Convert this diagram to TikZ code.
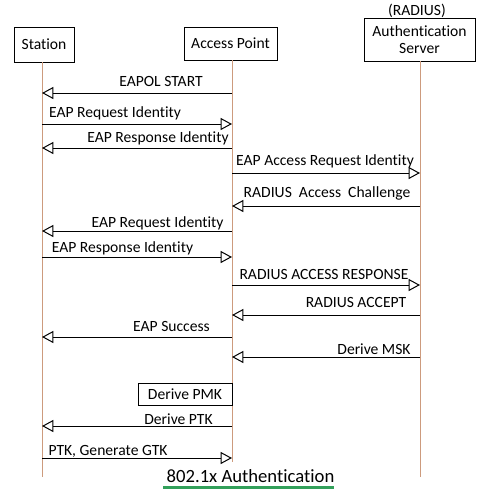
\documentclass[tikz,border=0pt]{standalone}
\usepackage{fontspec}
\setmainfont[Ligatures={NoCommon}]{Carlito}
\usetikzlibrary{arrows.meta}
\definecolor{lifecol}{RGB}{205,155,125}
\definecolor{titlegreen}{RGB}{50,160,90}
\begin{document}
\begin{tikzpicture}[x=0.75pt,y=-0.75pt,
  lbl/.style={font=\fontsize{11.7}{14}\selectfont, anchor=base, inner sep=0pt},
  box/.style={draw, line width=0.75pt, font=\fontsize{11.7}{14}\selectfont, inner sep=0pt, align=center},
  life/.style={draw=lifecol, line width=0.75pt},
  msg/.style={line width=0.75pt, -{Triangle[open, length=8.5pt, width=9pt]}}]
\useasboundingbox (0,0) rectangle (480,493);
% participants
\node[box, minimum width=45pt, minimum height=26.25pt] (st) at (44,44.5) {Station};
\node[box, minimum width=69.75pt, minimum height=24.75pt] (ap) at (230.5,43.5) {Access Point};
\node[box, minimum width=83.25pt, minimum height=32.25pt] (as) at (419.5,39.5) {Authentication\\[-1pt]Server};
\node[lbl] (rad) at (417,15) {(RADIUS)};
% lifelines
\coordinate (stT) at (42,62);  \coordinate (stB) at (42,477);
\coordinate (apT) at (232,60); \coordinate (apB) at (232,462);
\coordinate (asT) at (420,61); \coordinate (asB) at (420,477);
\draw[life] (stT) -- (stB);
\draw[life] (apT) -- (apB);
\draw[life] (asT) -- (asB);
% messages
\draw[msg] (apT |- 0,93) -- (stT |- 0,93);
\node[lbl] (m1) at (161,86) {EAPOL START};
\draw[msg] (stT |- 0,124) -- (apT |- 0,124);
\node[lbl] (m2) at (115,117) {EAP Request Identity};
\draw[msg] (apT |- 0,148) -- (stT |- 0,148);
\node[lbl] (m3) at (158,142) {EAP Response Identity};
\draw[msg] (apT |- 0,173) -- (asT |- 0,173);
\node[lbl] (m4) at (325,165) {EAP Access Request Identity};
\draw[msg] (asT |- 0,206) -- (apT |- 0,206);
\node[lbl] (m5) at (327,197) {RADIUS\ \ Access\ \ Challenge};
\draw[msg] (apT |- 0,231) -- (stT |- 0,231);
\node[lbl] (m6) at (157.5,227) {EAP Request Identity};
\draw[msg] (stT |- 0,257) -- (apT |- 0,257);
\node[lbl] (m7) at (122.5,252) {EAP Response Identity};
\draw[msg] (apT |- 0,285) -- (asT |- 0,285);
\node[lbl] (m8) at (324,279) {RADIUS ACCESS RESPONSE};
\draw[msg] (asT |- 0,315) -- (apT |- 0,315);
\node[lbl] (m9) at (356,307) {RADIUS ACCEPT};
\draw[msg] (apT |- 0,337) -- (stT |- 0,337);
\node[lbl] (m10) at (171.5,331) {EAP Success};
\draw[msg] (asT |- 0,357) -- (apT |- 0,357);
\node[lbl] (m11) at (374,354) {Derive MSK};
\node[box, minimum width=70.5pt, minimum height=16.5pt] (pmk) at (185,394) {Derive PMK};
\draw[msg] (apT |- 0,426) -- (stT |- 0,426);
\node[lbl] (m13) at (178.5,424) {Derive PTK};
\draw[msg] (stT |- 0,458) -- (apT |- 0,458);
\node[lbl] (m14) at (108,455) {PTK, Generate GTK};
% title
\node[lbl, font=\fontsize{14}{16}\selectfont] (title) at (250.5,482) {802.1x Authentication};
\draw[titlegreen, line width=2.25pt] (163,487.5) -- (334,487.5);
\end{tikzpicture}
\end{document}
